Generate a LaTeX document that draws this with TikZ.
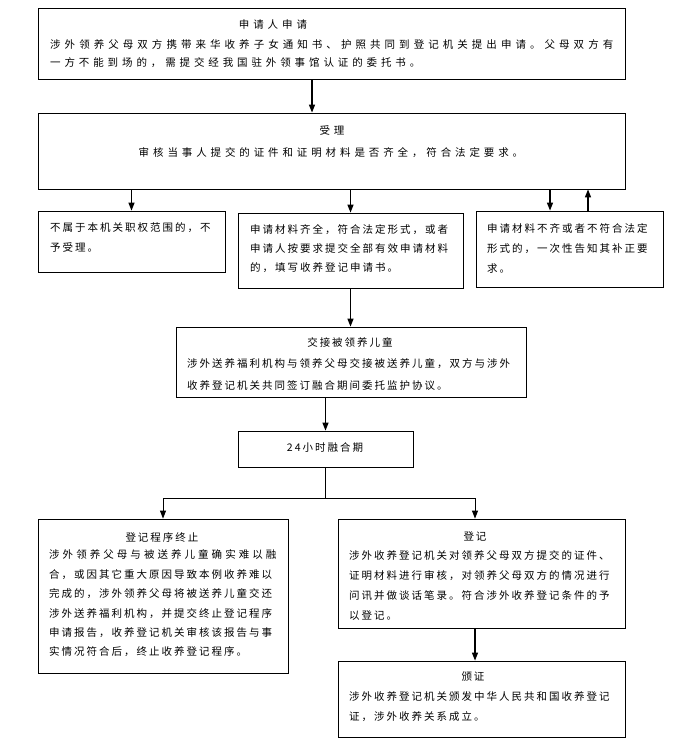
\documentclass[tikz,border=0pt]{standalone}
\usepackage{fontspec}
\newfontfamily\cjk[LetterSpace=19]{Noto Sans CJK SC}
\newfontfamily\cjkwide[LetterSpace=37]{Noto Sans CJK SC}
\usetikzlibrary{arrows.meta,calc,positioning}

\tikzset{
  box/.style={draw, line width=0.8pt, inner sep=0pt},
  arr/.style={line width=1.2pt, -{Triangle[length=8pt,width=6pt]}},
  head/.style={inner sep=0pt, font=\cjk\fontsize{10.5}{12}\selectfont},
  body/.style={inner sep=0pt, anchor=west, align=left, font=\cjk\fontsize{10.5}{20}\selectfont},
}

\begin{document}
\begin{tikzpicture}[x=1pt,y=-1pt]

    \useasboundingbox (0,0) rectangle (698,754);

    % Boxes
    \node[box, minimum width=587pt, minimum height=71pt] (apply) at (331.5,43.5) {};
    \node[box, minimum width=587pt, minimum height=76pt] (accept) at (331.5,151) {};
    \node[box, minimum width=187pt, minimum height=61pt] (reject) at (131.5,241.5) {};
    \node[box, minimum width=225pt, minimum height=75pt] (ok) at (350.5,250.5) {};
    \node[box, minimum width=187pt, minimum height=76pt] (nack) at (569.5,249) {};
    \node[box, minimum width=350pt, minimum height=70pt] (handover) at (351,362) {};
    \node[box, minimum width=175pt, minimum height=36pt] (fuse) at (325.5,449) {};
    \node[box, minimum width=250pt, minimum height=154pt] (stop) at (163,596) {};
    \node[box, minimum width=287pt, minimum height=109pt] (register) at (481.5,573.5) {};
    \node[box, minimum width=287pt, minimum height=76pt] (cert) at (481.5,699) {};

    % Texts
    \node[head, font=\cjkwide\fontsize{10.5}{12}\selectfont] (applyhd) at (273,25) {申请人申请};
    \node[body, font=\cjkwide\fontsize{10.5}{18}\selectfont] (applytx) at (50,54)
        {{\addfontfeatures{LetterSpace=38.5}涉外领养父母双方携带来华收养子女通知书、护照共同到登记机关提出申请。父母双方有}\\
         一方不能到场的，需提交经我国驻外领事馆认证的委托书。};

    \node[head, font=\cjkwide\fontsize{10.5}{12}\selectfont] (accepthd) at (332,130) {受理};
    \node[head, font=\cjkwide\fontsize{10.5}{12}\selectfont] (accepttx) at (331,153)
        {审核当事人提交的证件和证明材料是否齐全，符合法定要求。};

    \node[body] (rejecttx) at (50,237)
        {不属于本机关职权范围的，不\\予受理。};
    \node[body, font=\cjk\fontsize{10.5}{19}\selectfont] (oktx) at (250,249)
        {申请材料齐全，符合法定形式，或者\\申请人按要求提交全部有效申请材料\\的，填写收养登记申请书。};
    \node[body] (nacktx) at (487,248)
        {申请材料不齐或者不符合法定\\形式的，一次性告知其补正要\\求。};

    \node[head] (handoverhd) at (350,342) {交接被领养儿童};
    \node[body, font=\cjk\fontsize{10.5}{22}\selectfont] (handovertx) at (187,374)
        {涉外送养福利机构与领养父母交接被送养儿童，双方与涉外\\收养登记机关共同签订融合期间委托监护协议。};

    \node[head] (fusetx) at (325,448) {24小时融合期};

    \node[head] (stophd) at (162,537) {登记程序终止};
    \node[body, font=\cjk\fontsize{10.5}{19.4}\selectfont] (stoptx) at (49,603.5)
        {{\addfontfeatures{LetterSpace=29}涉外领养父母与被送养儿童确实难以融}\\合，或因其它重大原因导致本例收养难以\\完成的，涉外领养父母将被送养儿童交还\\涉外送养福利机构，并提交终止登记程序\\申请报告，收养登记机关审核该报告与事\\实情况符合后，终止收养登记程序。};

    \node[head] (registerhd) at (475,536) {登记};
    \node[body] (registertx) at (349,585)
        {涉外收养登记机关对领养父母双方提交的证件、\\证明材料进行审核，对领养父母双方的情况进行\\问讯并做谈话笔录。符合涉外收养登记条件的予\\以登记。};

    \node[head] (certhd) at (473,677) {颁证};
    \node[body] (certtx) at (349,707)
        {涉外收养登记机关颁发中华人民共和国收养登记\\证，涉外收养关系成立。};

    % Arrows
    \draw[arr] ($(apply.south)+(-19.5,0)$) -- ($(accept.north)+(-19.5,0)$);

    \draw[arr] (accept.south -| reject.north) -- (reject.north);
    \draw[arr] (accept.south -| ok.north) -- (ok.north);
    \coordinate (nackin) at ($(nack.north)+(-19.5,0)$);
    \coordinate (nackout) at ($(nack.north)+(18.5,0)$);
    \draw[arr] (nackin |- accept.south) -- (nackin);
    \draw[arr] (nackout) -- (nackout |- accept.south);

    \draw[arr] (ok.south) -- (ok.south |- handover.north);
    \draw[arr] (handover.south -| fuse.north) -- (fuse.north);

    % Fork
    \coordinate (fork) at ($(fuse.south)+(0,31)$);
    \coordinate (regin) at ($(register.north)+(-6.5,0)$);
    \draw[line width=1.2pt] (fuse.south) -- (fork);
    \draw[arr, line width=1pt] (fork) -| (stop.north);
    \draw[arr, line width=1pt] (fork) -| (regin);
    \draw[arr] (regin |- register.south) -- (regin |- cert.north);

\end{tikzpicture}
\end{document}
